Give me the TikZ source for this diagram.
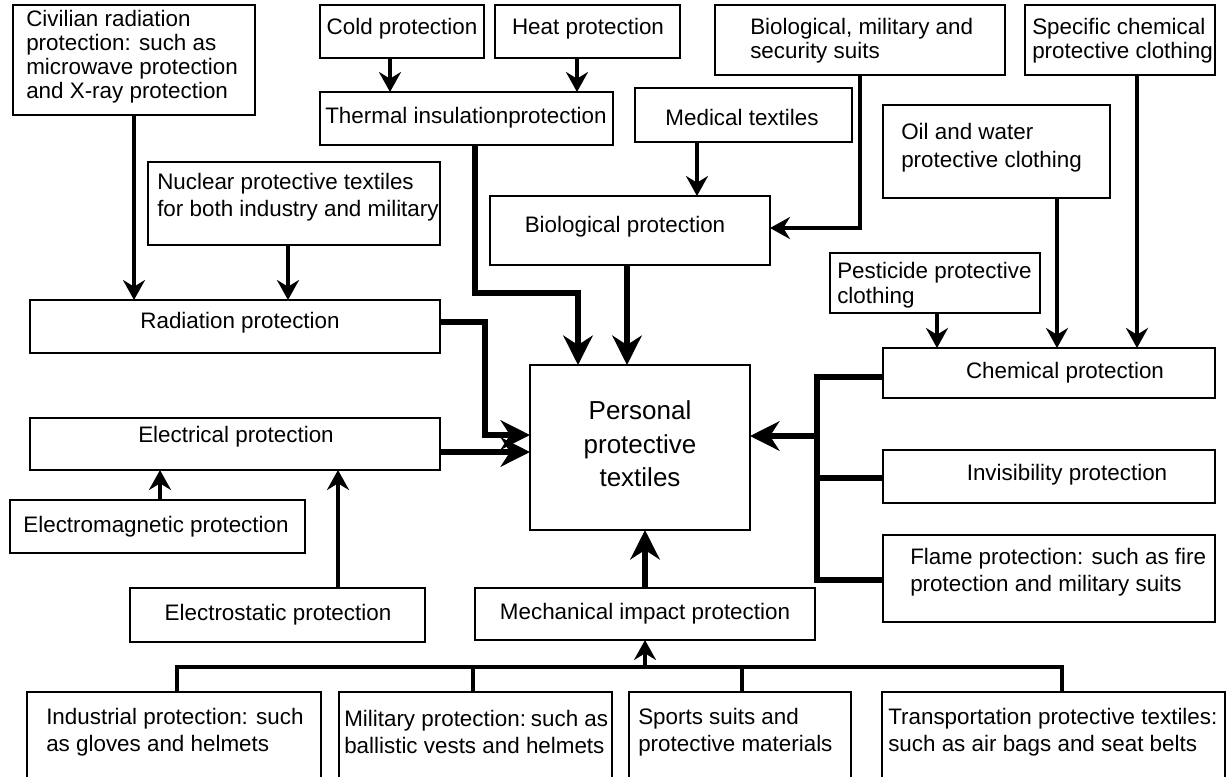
\documentclass[tikz,border=0pt]{standalone}
\usepackage{fontspec}
\setmainfont{Liberation Sans}
\usetikzlibrary{arrows.meta,calc}
\newcommand\mkbox[5]{\node[bx, minimum width={(#4-#2)*0.75pt}, minimum height={(#5-#3)*0.75pt}] (#1) at ({(#2+#4)/2},{(#3+#5)/2}) {};}
\tikzset{
 bx/.style={draw, line width=1.4pt, inner sep=0pt, outer sep=0pt},
 txt/.style={inner sep=0pt, font=\fontsize{16.8}{18}\selectfont, align=left},
 bigtxt/.style={inner sep=0pt, font=\fontsize{19.5}{25}\selectfont, align=center},
 thinarr/.style={line width=3.3pt, -{Stealth[length=15pt,width=16.5pt,inset=5pt]}},
 thickarr/.style={line width=5.2pt, line join=miter, -{Stealth[length=22pt,width=22pt,inset=7pt]}},
 thickln/.style={line width=5.2pt, line join=miter},
 busln/.style={line width=2.8pt, line join=miter}
}
\begin{document}
\begin{tikzpicture}[x=0.75pt,y=-0.75pt]
\useasboundingbox (0,0) rectangle (1228,776);
\clip (0,0) rectangle (1228,776);
\fill[white] (0,0) rectangle (1228,776);
% boxes
\mkbox{civ}{13}{5}{255}{115}
\mkbox{cold}{320}{5}{484}{58}
\mkbox{heat}{495}{5}{680}{58}
\mkbox{bsuit}{715}{5}{1005}{75}
\mkbox{spec}{1025}{5}{1215}{75}
\mkbox{therm}{320}{92}{613}{145}
\mkbox{med}{635}{88}{852}{142}
\mkbox{oil}{883}{105}{1110}{198}
\mkbox{nuc}{148}{162}{440}{245}
\mkbox{bio}{490}{196}{770}{265}
\mkbox{pest}{830}{253}{1040}{313}
\mkbox{rad}{30}{300}{440}{353}
\mkbox{chem}{883}{348}{1215}{398}
\mkbox{pers}{530}{365}{750}{530}
\mkbox{elec}{30}{418}{440}{470}
\mkbox{invis}{883}{450}{1215}{503}
\mkbox{emag}{10}{500}{305}{553}
\mkbox{flame}{883}{535}{1215}{622}
\mkbox{estat}{130}{588}{425}{642}
\mkbox{mech}{475}{588}{815}{640}
\mkbox{ind}{27}{692}{321}{800}
\mkbox{mil}{339}{692}{612}{800}
\mkbox{spt}{629}{692}{851}{800}
\mkbox{trans}{882}{692}{1225}{800}
% texts
\node[txt, anchor=west] (tciv) at (26,57) {Civilian radiation\\protection: such as\\microwave protection\\and X-ray protection};
\node[txt] (tcold) at (402,29) {Cold protection};
\node[txt] (theat) at (588,29) {Heat protection};
\node[txt, anchor=west] (tbsuit) at (750,41) {Biological, military and\\security suits};
\node[txt, anchor=west] (tspec) at (1032,41) {Specific chemical\\protective clothing};
\node[txt] (ttherm) at (466,118) {Thermal insulationprotection};
\node[txt] (tmed) at (742,117) {Medical textiles};
\node[txt, anchor=west] (toil) at (901,148) {Oil and water\\[3pt]protective clothing};
\node[txt, anchor=west] (tnuc) at (157,197) {Nuclear protective textiles\\[2pt]for both industry and military};
\node[txt] (tbio) at (625,227) {Biological protection};
\node[txt, anchor=west] (tpest) at (837,285) {Pesticide protective\\[1pt]clothing};
\node[txt] (trad) at (240,323) {Radiation protection};
\node[txt] (tchem) at (1065,373) {Chemical protection};
\node[bigtxt] (tpers) at (640,444) {Personal\\protective\\textiles};
\node[txt] (telec) at (236,437) {Electrical protection};
\node[txt] (tinvis) at (1067,475) {Invisibility protection};
\node[txt] (temag) at (156,527) {Electromagnetic protection};
\node[txt, anchor=west] (tflame) at (910,572) {Flame protection: such as fire\\[2pt]protection and military suits};
\node[txt] (testat) at (278,615) {Electrostatic protection};
\node[txt] (tmech) at (645,614) {Mechanical impact protection};
\node[txt, anchor=west] (tind) at (46,732) {Industrial protection: such\\[2pt]as gloves and helmets};
\node[txt, anchor=west] (tmil) at (344,732) {Military protection:\hspace{-2.5pt} such as\\[2pt]ballistic vests and helmets};
\node[txt, anchor=west] (tspt) at (638,732) {Sports suits and\\[2pt]protective materials};
\node[txt, anchor=west] (ttrans) at (888,732) {Transportation protective textiles:\\[2pt]such as air bags and seat belts};
% thin arrows
\draw[thinarr] (civ.south) -- (civ.south |- rad.north);
\draw[thinarr] (288,0 |- nuc.south) -- (288,0 |- rad.north);
\draw[thinarr] (390,0 |- cold.south) -- (390,0 |- therm.north);
\draw[thinarr] (577,0 |- heat.south) -- (577,0 |- therm.north);
\draw[thinarr] (697,0 |- med.south) -- (697,0 |- bio.north);
\draw[thinarr] (860,0 |- bsuit.south) -- (860,228) -- (bio.east |- 0,228);
\draw[thinarr] (1057,0 |- oil.south) -- (1057,0 |- chem.north);
\draw[thinarr] (1137,0 |- spec.south) -- (1137,0 |- chem.north);
\draw[thinarr] (937,0 |- pest.south) -- (937,0 |- chem.north);
\draw[thinarr] (160,0 |- emag.north) -- (160,0 |- elec.south);
\draw[thinarr] (338,0 |- estat.north) -- (338,0 |- elec.south);
% thick arrows
\draw[thickarr] (475,0 |- therm.south) -- (475,293) -- (578,293) -- (578,0 |- pers.north);
\draw[thickarr] (627,0 |- bio.south) -- (627,0 |- pers.north);
\draw[thickarr] (rad.east |- 0,322) -- (485,322) -- (485,435) -- (pers.west |- 0,435);
\draw[thickarr] (elec.east |- 0,452) -- (pers.west |- 0,452);
\draw[thickln] (chem.west |- 0,377) -- (817,377) -- (817,580) -- (flame.west |- 0,580);
\draw[thickln] (invis.west |- 0,478) -- (817,478);
\draw[thickarr] (817,436) -- (pers.east |- 0,436);
\draw[thickarr] (mech.north) -- (mech.north |- pers.south);
% bottom bus
\draw[busln] (177,0 |- ind.north) -- (177,667) -- (1062,667) -- (1062,0 |- trans.north);
\draw[busln] (473,667) -- (473,0 |- mil.north);
\draw[busln] (742,667) -- (742,0 |- spt.north);
\draw[thinarr] (645,667) -- (645,0 |- mech.south);
\end{tikzpicture}
\end{document}
